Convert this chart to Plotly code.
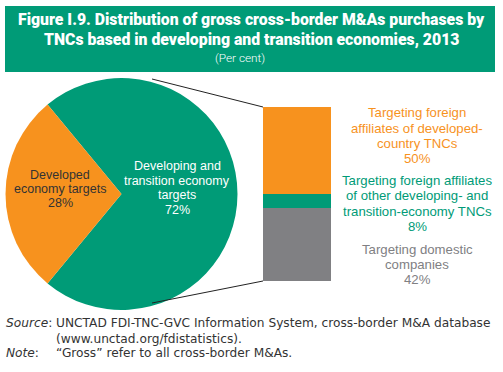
import plotly.graph_objects as go

# ---------------- data ----------------
pie_labels = ["Developing and<br>transition economy<br>targets", "Developed<br>economy targets"]
pie_values = [72, 28]

bar_labels = ["Targeting domestic<br>companies",
              "Targeting foreign affiliates<br>of other developing- and<br>transition-economy TNCs",
              "Targeting foreign<br>affiliates of developed-<br>country TNCs"]
bar_values = [42, 8, 50]

GREEN = "#009B77"
ORANGE = "#F7921E"
GRAY = "#808083"
DARK = "#333333"
BODY = "Liberation Sans, Arial, sans-serif"
FOOT = "DejaVu Sans, sans-serif"
TITLE = "Roboto, Liberation Sans, sans-serif"

W, H = 503, 372
def px(x): return x / W
def py(y): return 1 - y / H

fig = go.Figure()

# pie
fig.add_trace(go.Pie(
    values=pie_values, labels=pie_labels, sort=False, direction="clockwise",
    rotation=-39.6, textinfo="none", hoverinfo="label+percent",
    marker=dict(colors=[GREEN, ORANGE], line=dict(width=0)),
    domain=dict(x=[px(5), px(238)], y=[py(310), py(78)]),
    showlegend=False,
))

# stacked bar
bar_colors = [GRAY, GREEN, ORANGE]
for lab, val, col in zip(bar_labels, bar_values, bar_colors):
    fig.add_trace(go.Bar(
        x=["b"], y=[val], name=lab.replace("<br>", " "), marker=dict(color=col, line=dict(width=0)),
        xaxis="x", yaxis="y", showlegend=False, width=1,
    ))

fig.update_layout(
    width=W, height=H, margin=dict(l=0, r=0, t=0, b=0),
    paper_bgcolor="white", plot_bgcolor="rgba(0,0,0,0)",
    barmode="stack", bargap=0,
    xaxis=dict(domain=[px(263), px(331)], range=[-0.5, 0.5], visible=False, fixedrange=True),
    yaxis=dict(domain=[py(281), py(107)], range=[0, 100], visible=False, fixedrange=True),
    font=dict(family=BODY, size=13, color=DARK),
)

shapes = [
    dict(type="rect", xref="paper", yref="paper", x0=px(5), x1=px(495), y0=py(72), y1=py(6),
         fillcolor=GREEN, line=dict(width=0), layer="below"),
    dict(type="line", xref="paper", yref="paper", x0=px(152), y0=py(79), x1=px(263), y1=py(107),
         line=dict(color="#222222", width=1)),
    dict(type="line", xref="paper", yref="paper", x0=px(152), y0=py(303), x1=px(263), y1=py(281),
         line=dict(color="#222222", width=1)),
]
fig.update_layout(shapes=shapes)

ann = []
def add(x, y, text, font, xanchor="center"):
    ann.append(dict(x=px(x), y=py(y), xref="paper", yref="paper", showarrow=False,
                    xanchor=xanchor, yanchor="middle", align="center" if xanchor == "center" else "left",
                    text=text, font=font))

def add_lines(x, y_center, text, font, spacing):
    lines = text.split("<br>")
    n = len(lines)
    for i, ln in enumerate(lines):
        add(x, y_center + (i - (n - 1) / 2) * spacing, ln, font)

tf = dict(family=TITLE, size=15.8, color="white", weight=900)
add(251, 20, "Figure I.9. Distribution of gross cross-border M&As purchases by", tf)
add(251, 39, "TNCs based in developing and transition economies, 2013", tf)
add(240, 58, "(Per cent)", dict(family=TITLE, size=11.8, color="white", weight=300))

# pie labels
add_lines(177, 188, f"{pie_labels[0]}<br>{pie_values[0]}%", dict(family=BODY, size=12.5, color="white"), 14.5)
add_lines(60, 189, f"{pie_labels[1]}<br>{pie_values[1]}%", dict(family=BODY, size=12.5, color=DARK), 14.5)

# bar labels
bar_label_y = [264.5, 203.5, 135.8]
for lab, val, col, yy in zip(bar_labels, bar_values, bar_colors, bar_label_y):
    add_lines(417, yy, f"{lab}<br>{val}%", dict(family=BODY, size=13.2, color=col), 15.3)

# footer
foot = dict(family=FOOT, size=12.2, color=DARK)
add(4, 323, "<i>Source</i>:", foot, "left")
add(54, 323, "UNCTAD FDI-TNC-GVC Information System, cross-border M&A database", foot, "left")
add(54, 339, "(www.unctad.org/fdistatistics).", foot, "left")
add(4, 353, "<i>Note</i>:", foot, "left")
add(54, 353, "\u201cGross\u201d refer to all cross-border M&As.", foot, "left")

fig.update_layout(annotations=ann)
fig.write_html("out.html", config=dict(displayModeBar=False),
               post_script="document.body.style.margin='0px';document.body.style.padding='0px';")
